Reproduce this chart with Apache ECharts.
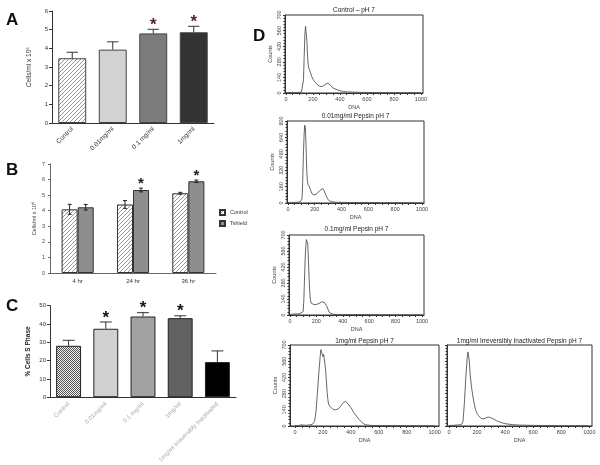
<!DOCTYPE html>
<html><head><meta charset="utf-8">
<script src="https://cdn.jsdelivr.net/npm/echarts@6/dist/echarts.min.js"></script>
<style>html,body{margin:0;padding:0;background:#fff}#c{width:600px;height:465px}</style>
</head><body><div id="c"></div>
<script>
// ---------- Panel A ----------
const aCategories = ['Control', '0.01mg/ml', '0.1 mg/ml', '1mg/ml'];
const aValues = [3.47, 3.93, 4.80, 4.86];
const aErrors = [0.32, 0.42, 0.22, 0.32];
const aStars = [false, false, true, true];
// ---------- Panel B ----------
const bCategories = ['4 hr', '24 hr', '36 hr'];
const bSeriesNames = ['Control', 'Tshield'];
const bControl = [4.09, 4.40, 5.12];
const bControlErr = [0.32, 0.25, 0.06];
const bTshield = [4.22, 5.33, 5.89];
const bTshieldErr = [0.18, 0.12, 0.08];
const bStars = [false, true, true];
// ---------- Panel C ----------
const cCategories = ['Control', '0.01mg/ml', '0.1 mg/ml', '1mg/ml', '1mg/ml Irreversibly Inactivated'];
const cValues = [28.1, 37.4, 44.1, 43.2, 19.2];
const cErrors = [3.0, 3.7, 2.1, 1.3, 6.1];
const cStars = [false, true, true, true, false];
// ---------- Panel D (histograms) ----------
const dTitles = ['Control \u2013 pH 7', '0.01mg/ml Pepsin pH 7', '0.1mg/ml Pepsin pH 7', '1mg/ml Pepsin pH 7', '1mg/ml Irreversibly Inactivated Pepsin pH 7'];
const dXLabels = [0, 200, 400, 600, 800, 1000];
const dXMinorTicks = [0,50,100,150,200,250,300,350,400,450,500,550,600,650,700,750,800,850,900,950,1000];
const dControlDNA    = [0,25,50,75,100,115,125,130,135,140,145,150,155,160,165,170,180,190,200,210,220,230,240,250,260,270,280,290,300,310,320,330,340,350,360,380,400,425,450,500,550,600,700,800,900,1000];
const dControlCounts = [3,4,6,5,6,8,20,120,330,520,600,585,470,330,250,220,190,150,125,105,90,78,68,60,56,58,66,76,86,88,80,68,55,45,38,28,20,14,10,8,6,5,4,3,3,2];
const d001DNA    = [0,25,50,75,90,100,105,110,115,120,125,130,135,140,145,150,160,170,180,190,200,210,220,230,240,250,260,270,280,290,300,310,320,340,370,400,450,500,600,700,800,900,1000];
const d001Counts = [5,3,6,8,10,15,40,200,450,650,760,740,560,330,210,180,160,120,90,80,78,85,95,110,125,138,140,120,85,55,32,20,14,10,7,6,5,5,4,3,3,2,2];
const d01DNA    = [0,25,50,75,90,100,105,110,115,120,125,130,135,140,145,150,155,160,170,180,190,200,210,220,230,240,250,260,270,280,290,300,310,330,360,400,500,600,700,800,900,1000];
const d01Counts = [5,8,10,12,15,30,120,300,480,600,660,670,620,480,330,200,130,105,95,92,90,92,95,100,108,115,118,112,100,75,45,20,10,6,5,4,4,3,3,2,2,2];
const d1DNA    = [0,25,40,50,75,100,125,140,150,160,170,180,185,190,195,200,205,210,215,220,225,230,235,240,245,250,260,270,280,290,300,310,320,330,340,350,360,365,370,380,390,400,410,420,430,440,450,460,470,480,490,500,520,550,600,700,800,900,1000];
const d1Counts = [5,4,10,8,6,8,15,40,120,280,450,600,660,665,620,600,620,570,530,470,380,290,230,190,175,170,160,145,150,140,150,148,160,175,195,210,215,205,210,190,175,160,140,115,105,85,70,55,40,30,20,12,8,5,4,3,3,2,2];
const dInDNA    = [0,25,50,75,90,100,110,120,130,135,140,145,150,160,170,180,190,200,210,220,230,240,250,260,270,280,290,300,320,340,360,380,400,450,500,600,700,800,900,1000];
const dInCounts = [4,5,8,10,15,40,200,420,590,640,630,560,460,340,260,190,140,110,90,75,65,60,62,68,75,78,76,70,58,45,35,27,20,12,8,5,4,3,3,2];

function pairs(xs, ys) { return xs.map((x, i) => [x, ys[i]]); }

function hatchCanvas() {
  const c = document.createElement('canvas'); c.width = 4; c.height = 4;
  const g = c.getContext('2d');
  g.fillStyle = '#ffffff'; g.fillRect(0, 0, 4, 4);
  g.strokeStyle = '#8a8a8a'; g.lineWidth = 0.9;
  g.beginPath();
  g.moveTo(-1, 5); g.lineTo(5, -1);
  g.moveTo(-1, 1); g.lineTo(1, -1);
  g.moveTo(3, 5); g.lineTo(5, 3);
  g.stroke();
  return c;
}
function checkerCanvas() {
  const c = document.createElement('canvas'); c.width = 2; c.height = 2;
  const g = c.getContext('2d');
  g.fillStyle = '#f0f0f0'; g.fillRect(0, 0, 2, 2);
  g.fillStyle = '#555555'; g.fillRect(0, 0, 1, 1); g.fillRect(1, 1, 1, 1);
  return c;
}
const hatch = { image: hatchCanvas(), repeat: 'repeat' };
const checker = { image: checkerCanvas(), repeat: 'repeat' };

const FONT = 'Liberation Sans';

function errUpRender(stars, starColor, capFrac, starSize) {
  return function (params, api) {
    const i = api.value(0), v = api.value(1), e = api.value(2);
    const p0 = api.coord([i, v]);
    const p1 = api.coord([i, v + e]);
    const hw = api.size([1, 0])[0] * capFrac;
    const ch = [
      { type: 'line', shape: { x1: p0[0], y1: p0[1], x2: p1[0], y2: p1[1] }, style: { stroke: '#333', lineWidth: 1 } },
      { type: 'line', shape: { x1: p1[0] - hw, y1: p1[1], x2: p1[0] + hw, y2: p1[1] }, style: { stroke: '#333', lineWidth: 1 } }
    ];
    if (stars[i]) {
      ch.push({ type: 'text', style: { text: '*', x: p1[0], y: p1[1] - 4, align: 'center', verticalAlign: 'middle', fontSize: starSize, fontWeight: 'bold', fontFamily: FONT, fill: starColor } });
    }
    return { type: 'group', children: ch };
  };
}
function errBothRender(offsetFrac, stars) {
  return function (params, api) {
    const i = api.value(0), v = api.value(1), e = api.value(2);
    const band = api.size([1, 0])[0];
    const dx = band * offsetFrac;
    const pT = api.coord([i, v + e]);
    const pB = api.coord([i, v - e]);
    const x = pT[0] + dx;
    const hw = 2;
    const ch = [
      { type: 'line', shape: { x1: x, y1: pT[1], x2: x, y2: pB[1] }, style: { stroke: '#222', lineWidth: 1 } },
      { type: 'line', shape: { x1: x - hw, y1: pT[1], x2: x + hw, y2: pT[1] }, style: { stroke: '#222', lineWidth: 1 } },
      { type: 'line', shape: { x1: x - hw, y1: pB[1], x2: x + hw, y2: pB[1] }, style: { stroke: '#222', lineWidth: 1 } }
    ];
    if (stars && stars[i]) {
      ch.push({ type: 'text', style: { text: '*', x: x, y: pT[1] - 4, align: 'center', verticalAlign: 'middle', fontSize: 15, fontWeight: 'bold', fontFamily: FONT, fill: '#222' } });
    }
    return { type: 'group', children: ch };
  };
}

const axisLineStyle = { color: '#333', width: 1 };

// Histogram grids
const dGrids = [
  { left: 285, top: 15, width: 138, height: 78 },
  { left: 287, top: 121, width: 137, height: 82 },
  { left: 289, top: 235, width: 135, height: 80 },
  { left: 290, top: 345, width: 149, height: 81 },
  { left: 447, top: 345, width: 145, height: 81 }
];
const dXRange = [[-7, 1015], [-7, 1015], [-7, 1015], [-36, 1031], [-14, 1019]];
const dYMax = [700, 800, 700, 700, 700];
const dYShowLabels = [true, true, true, true, false];
const dSeriesData = [pairs(dControlDNA, dControlCounts), pairs(d001DNA, d001Counts), pairs(d01DNA, d01Counts), pairs(d1DNA, d1Counts), pairs(dInDNA, dInCounts)];

const grids = [
  { left: 52, top: 11, width: 162, height: 112 },
  { left: 50, top: 164, width: 166, height: 109 },
  { left: 50, top: 305.7, width: 186, height: 93.6 }
].concat(dGrids.map(g => Object.assign({ show: true, borderColor: '#333', borderWidth: 1 }, g)));

const xAxes = [
  { type: 'category', gridIndex: 0, data: aCategories, axisLine: { lineStyle: axisLineStyle }, axisTick: { alignWithLabel: true, length: 3, lineStyle: axisLineStyle }, axisLabel: { rotate: 45, fontSize: 6.5, color: '#333', margin: 5, fontFamily: FONT, interval: 0 } },
  { type: 'category', gridIndex: 1, data: bCategories, axisLine: { lineStyle: { color: '#666' } }, axisTick: { length: 3, lineStyle: { color: '#666' } }, axisLabel: { fontSize: 6, color: '#333', margin: 5, fontFamily: FONT } },
  { type: 'category', gridIndex: 2, data: cCategories, axisLine: { lineStyle: axisLineStyle }, axisTick: { alignWithLabel: true, length: 3, lineStyle: axisLineStyle }, axisLabel: { rotate: 45, fontSize: 6, color: '#aaa', margin: 6, fontFamily: FONT, interval: 0 } }
];
const yAxes = [
  { type: 'value', gridIndex: 0, min: 0, max: 6, interval: 1, name: 'Cells/ml x 10\u2076', nameLocation: 'middle', nameGap: 19, nameTextStyle: { fontSize: 6.5, color: '#333', fontFamily: FONT }, axisLine: { show: true, lineStyle: axisLineStyle }, axisTick: { show: true, length: 3, lineStyle: axisLineStyle }, axisLabel: { fontSize: 6, color: '#333', margin: 4, fontFamily: FONT }, splitLine: { show: false } },
  { type: 'value', gridIndex: 1, min: 0, max: 7, interval: 1, name: 'Cells/ml x 10\u2076', nameLocation: 'middle', nameGap: 13, nameTextStyle: { fontSize: 5.5, color: '#444', fontFamily: FONT }, axisLine: { show: true, lineStyle: { color: '#666' } }, axisTick: { show: true, length: 2, lineStyle: { color: '#666' } }, axisLabel: { fontSize: 5.5, color: '#444', margin: 5, fontFamily: FONT }, splitLine: { show: false } },
  { type: 'value', gridIndex: 2, min: 0, max: 50, interval: 10, name: '% Cells S Phase', nameLocation: 'middle', nameGap: 18, nameTextStyle: { fontSize: 6.5, color: '#222', fontFamily: FONT, fontWeight: 'bold' }, axisLine: { show: true, lineStyle: axisLineStyle }, axisTick: { show: true, length: 3, lineStyle: axisLineStyle }, axisLabel: { fontSize: 6, color: '#333', margin: 4, fontFamily: FONT }, splitLine: { show: false } }
];
dGrids.forEach((g, k) => {
  const gi = k + 3;
  xAxes.push({ type: 'value', gridIndex: gi, min: dXRange[k][0], max: dXRange[k][1], name: 'DNA', nameLocation: 'middle', nameGap: 11, nameTextStyle: { fontSize: 5.5, color: '#444', fontFamily: FONT },
    axisLine: { show: true, onZero: false, lineStyle: axisLineStyle }, axisTick: { show: true, length: 2, customValues: dXMinorTicks, lineStyle: axisLineStyle },
    axisLabel: { fontSize: 5.5, color: '#444', margin: 3, customValues: dXLabels, fontFamily: FONT, formatter: v => String(v) }, splitLine: { show: false } });
  yAxes.push({ type: 'value', gridIndex: gi, min: 0, max: dYMax[k], interval: dYMax[k] / 5, name: dYShowLabels[k] ? 'Counts' : '', nameLocation: 'middle', nameGap: 12, nameTextStyle: { fontSize: 5.5, color: '#444', fontFamily: FONT },
    axisLine: { show: true, onZero: false, lineStyle: axisLineStyle }, axisTick: { show: true, length: 2, lineStyle: axisLineStyle }, minorTick: { show: true, splitNumber: 5, length: 1.5, lineStyle: { color: '#333' } },
    axisLabel: { show: dYShowLabels[k], rotate: 90, fontSize: 5.5, color: '#444', margin: 3, fontFamily: FONT, formatter: v => String(v) }, splitLine: { show: false }, minorSplitLine: { show: false } });
});

const aColors = [hatch, '#d2d2d2', '#7c7c7c', '#333333'];
const cColors = [checker, '#d0d0d0', '#a2a2a2', '#626262', '#000000'];

const series = [
  { name: 'Panel A', type: 'bar', xAxisIndex: 0, yAxisIndex: 0, barWidth: '69%', data: aValues.map((v, i) => ({ value: v, itemStyle: { color: aColors[i], borderColor: '#444', borderWidth: 1 } })) },
  { name: 'Panel A error', type: 'custom', xAxisIndex: 0, yAxisIndex: 0, renderItem: errUpRender(aStars, '#5a2035', 0.14, 17), data: aValues.map((v, i) => [i, v, aErrors[i]]), z: 3 },
  { name: bSeriesNames[0], type: 'bar', xAxisIndex: 1, yAxisIndex: 1, barGap: '0%', barCategoryGap: '42%', itemStyle: { color: hatch, borderColor: '#333', borderWidth: 1 }, data: bControl },
  { name: bSeriesNames[1], type: 'bar', xAxisIndex: 1, yAxisIndex: 1, barGap: '0%', barCategoryGap: '42%', itemStyle: { color: '#8e8e8e', borderColor: '#333', borderWidth: 1 }, data: bTshield },
  { name: 'B control error', type: 'custom', xAxisIndex: 1, yAxisIndex: 1, renderItem: errBothRender(-0.145, null), data: bControl.map((v, i) => [i, v, bControlErr[i]]), z: 3 },
  { name: 'B tshield error', type: 'custom', xAxisIndex: 1, yAxisIndex: 1, renderItem: errBothRender(0.145, bStars), data: bTshield.map((v, i) => [i, v, bTshieldErr[i]]), z: 3 },
  { name: 'Panel C', type: 'bar', xAxisIndex: 2, yAxisIndex: 2, barWidth: '67%', data: cValues.map((v, i) => ({ value: v, itemStyle: { color: cColors[i], borderColor: '#222', borderWidth: 1 } })) },
  { name: 'Panel C error', type: 'custom', xAxisIndex: 2, yAxisIndex: 2, renderItem: errUpRender(cStars, '#111', 0.16, 17), data: cValues.map((v, i) => [i, v, cErrors[i]]), z: 3 }
];
dSeriesData.forEach((d, k) => {
  series.push({ name: 'Histogram ' + (k + 1), type: 'line', xAxisIndex: k + 3, yAxisIndex: k + 3, data: d, showSymbol: false, symbol: 'none', lineStyle: { color: '#555', width: 0.9 }, animation: false });
});

const graphics = [
  { type: 'text', left: 6, top: 12, style: { text: 'A', fontSize: 17, fontWeight: 'bold', fontFamily: FONT, fill: '#111' } },
  { type: 'text', left: 6, top: 162, style: { text: 'B', fontSize: 17, fontWeight: 'bold', fontFamily: FONT, fill: '#111' } },
  { type: 'text', left: 6, top: 298, style: { text: 'C', fontSize: 17, fontWeight: 'bold', fontFamily: FONT, fill: '#111' } },
  { type: 'text', left: 253, top: 28, style: { text: 'D', fontSize: 17, fontWeight: 'bold', fontFamily: FONT, fill: '#111' } }
];
const titleY = [10, 116, 229, 341, 341];
dGrids.forEach((g, k) => {
  graphics.push({ type: 'text', x: g.left + g.width / 2, y: titleY[k], style: { text: dTitles[k], fontSize: 6.5, fontFamily: FONT, fill: '#222', align: 'center', verticalAlign: 'middle' } });
});

const chart = echarts.init(document.getElementById('c'), null, { renderer: 'canvas' });
chart.setOption({
  backgroundColor: '#ffffff',
  animation: false,
  grid: grids,
  xAxis: xAxes,
  yAxis: yAxes,
  legend: { data: bSeriesNames, orient: 'vertical', left: 219, top: 209, itemWidth: 5, itemHeight: 5, itemGap: 4, icon: 'rect', textStyle: { fontSize: 5.5, color: '#333', fontFamily: FONT }, padding: 0 },
  graphic: graphics,
  series: series
});
</script></body></html>
